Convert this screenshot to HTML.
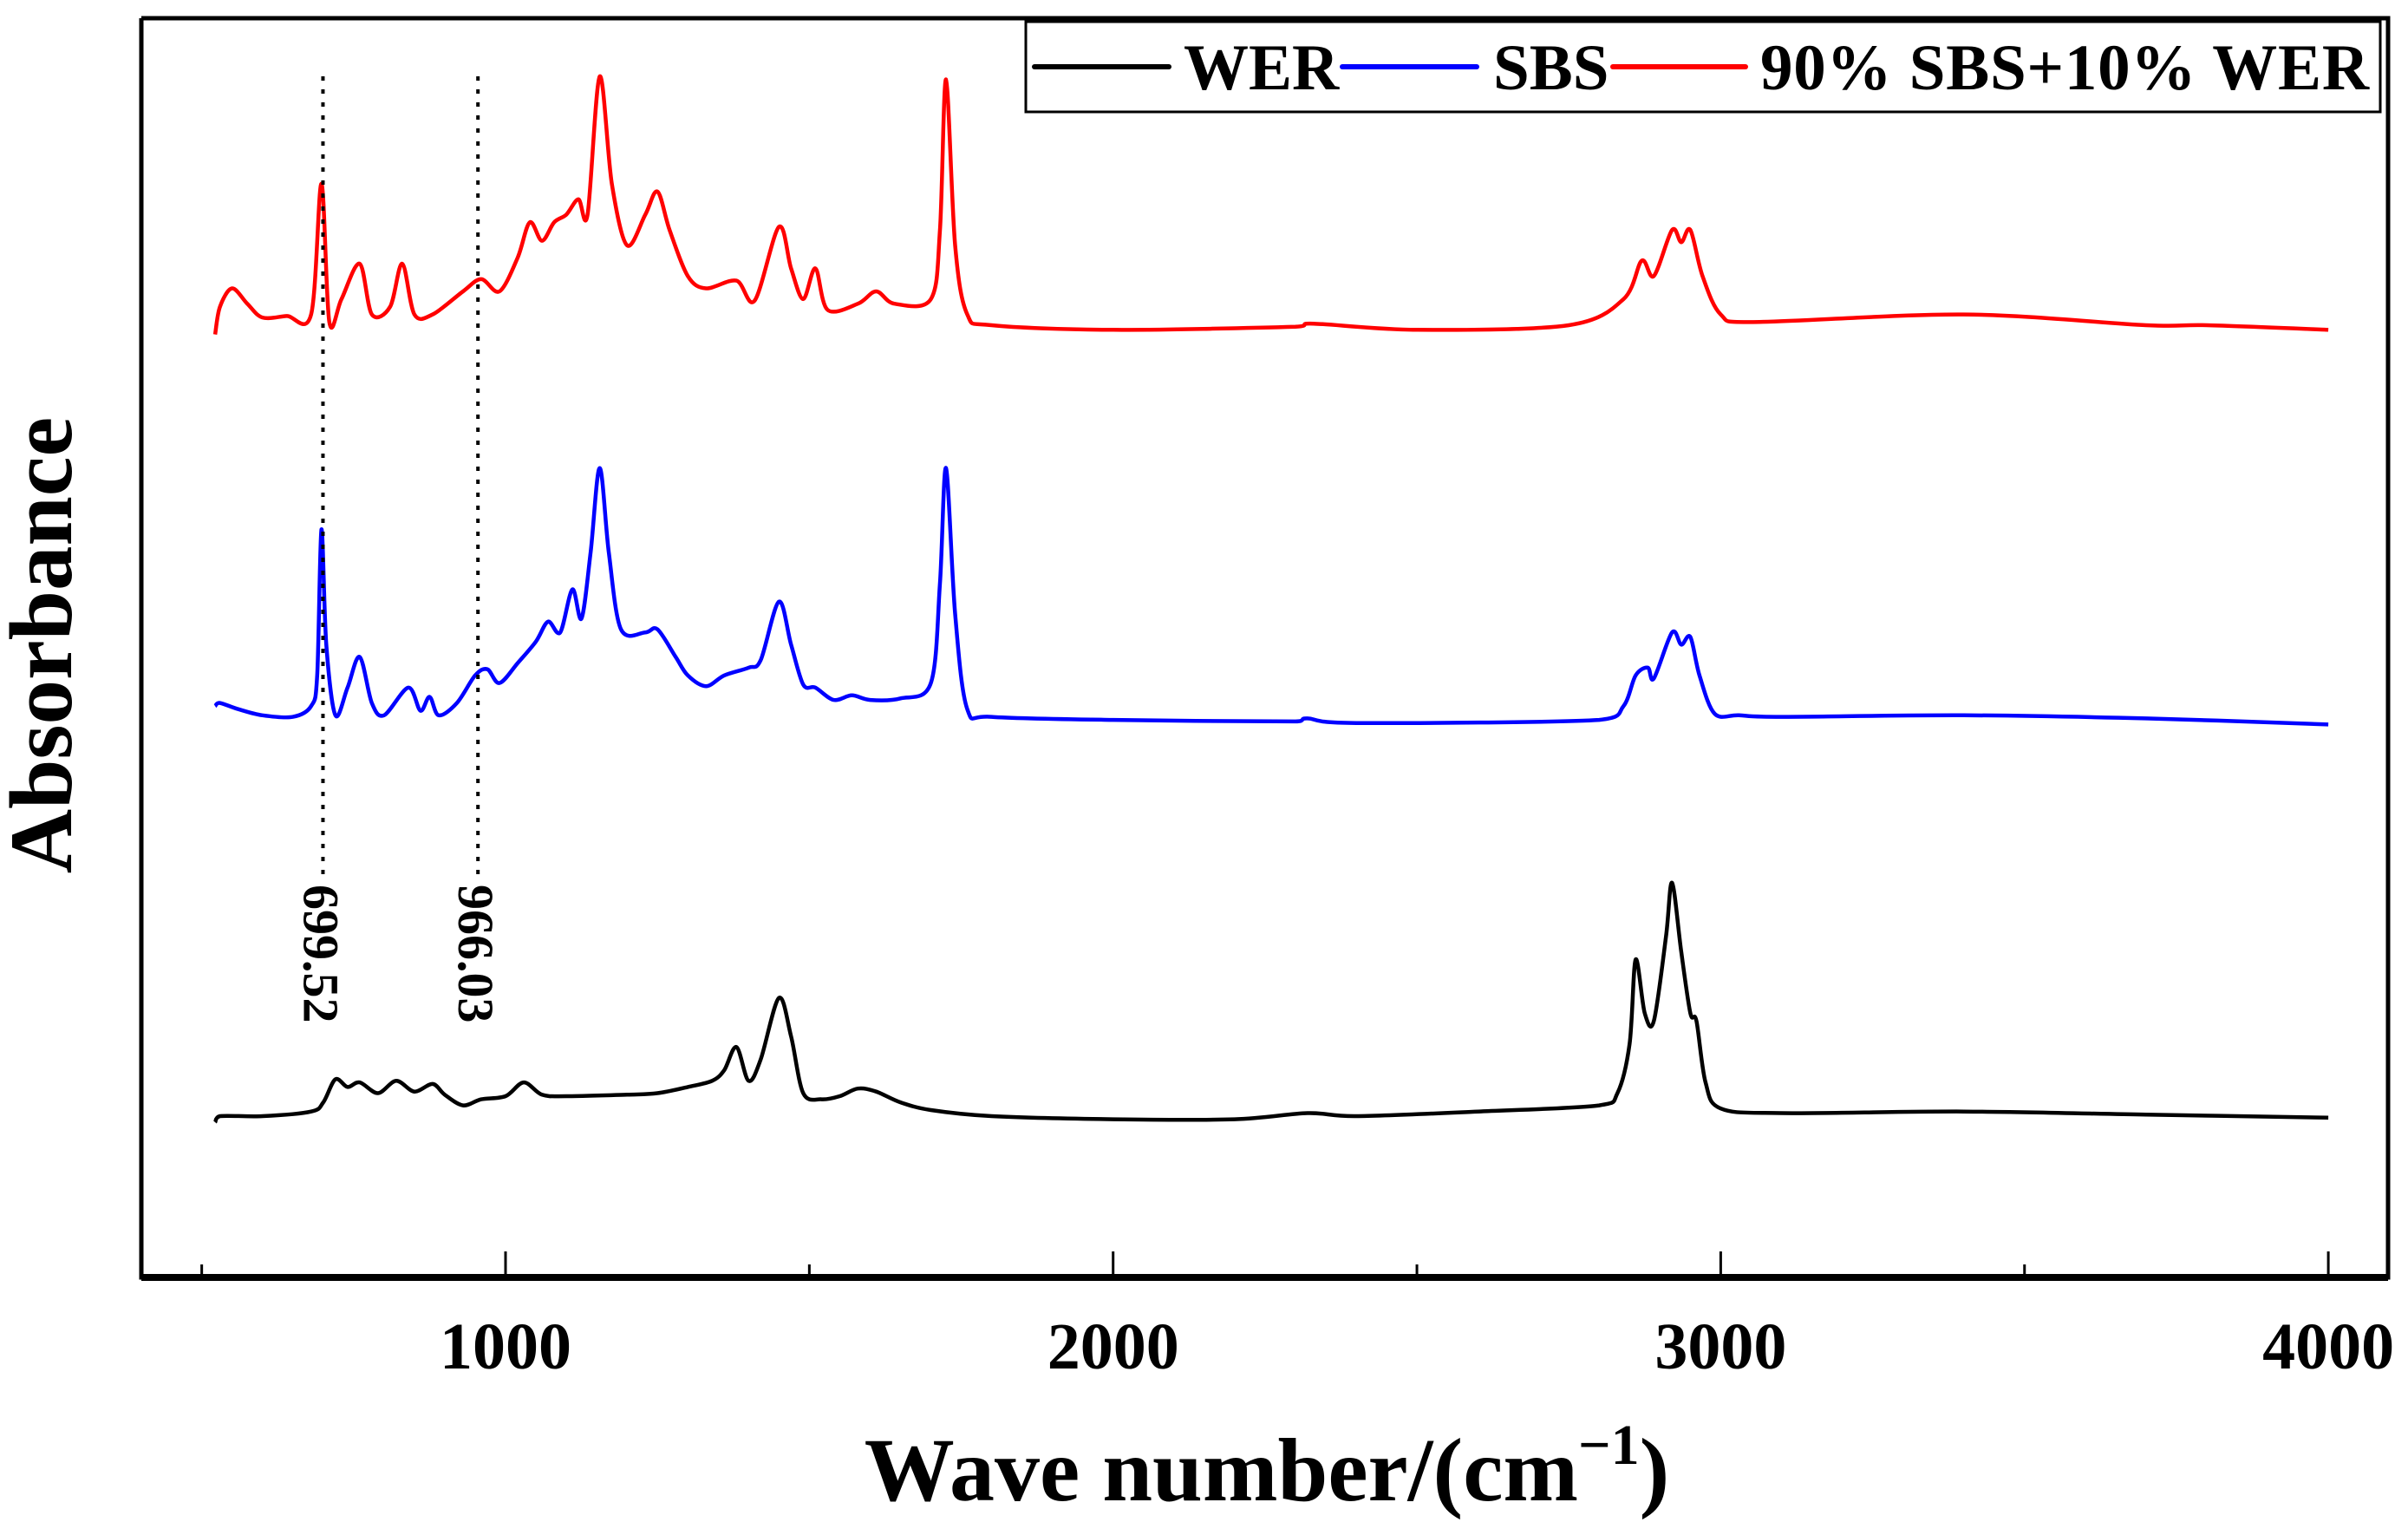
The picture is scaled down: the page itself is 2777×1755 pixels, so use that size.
<!DOCTYPE html>
<html><head><meta charset="utf-8"><style>
html,body{margin:0;padding:0;background:#fff;}
svg{display:block;font-family:"Liberation Serif",serif;font-weight:bold;}
</style></head><body>
<svg id="chart" width="2777" height="1755" viewBox="0 0 2777 1755" xmlns="http://www.w3.org/2000/svg">
<rect x="0" y="0" width="2777" height="1755" fill="#fff"/>
<g id="series"></g>
<g id="axes"></g>
<text x="0" y="0" transform="translate(82,744) rotate(-90)" text-anchor="middle" font-size="103">Absorbance</text>
<text x="1461" y="1730" text-anchor="middle" font-size="104">Wave number/(cm<tspan dy="-42" font-size="66">−1</tspan><tspan dy="42">)</tspan></text>
<g>
<rect x="1183" y="25" width="1562" height="104" fill="#fff" stroke="#000" stroke-width="3"/>
<line x1="1193" y1="77" x2="1348" y2="77" stroke="#000" stroke-width="6" stroke-linecap="round"/>
<text x="1365" y="103" font-size="75">WER</text>
<line x1="1548" y1="77" x2="1703" y2="77" stroke="#0000ff" stroke-width="6" stroke-linecap="round"/>
<text x="1722" y="103" font-size="75">SBS</text>
<line x1="1860" y1="77" x2="2013" y2="77" stroke="#ff0000" stroke-width="6" stroke-linecap="round"/>
<text x="2030" y="103" font-size="75" textLength="702">90% SBS+10% WER</text>
</g>
</svg>
<script>
const xTicks=[1000,2000,3000,4000];
const xMinor=[500,1500,2500,3500];
const markers=[699.52,966.03];
const markerLabels=["699.52","966.03"];
const werX=[522,530,600,680,700,720,740,760,790,820,850,880,900,930,960,1000,1030,1060,1100,1200,1250,1300,1340,1360,1380,1400,1420,1450,1470,1490,1520,1550,1580,1610,1650,1700,1800,2000,2200,2320,2400,2600,2800,2830,2850,2860,2875,2890,2910,2920,2935,2950,2960,2975,3000,3100,3400,3700,4000];
const werY=[101,105,105,108,114,129,124,127,120,128,121,126,119,112,116,118,127,119,118,119,120,124,128,135,150,128,142,182,157,120,116,118,123,121,114,109,105,103,103,107,105,108,112,120,152,207,172,167,222,257,212,172,167,127,110,107,108,106,104];
const sbsX=[522,530,560,600,650,680,690,697,705,720,740,760,780,800,840,860,875,890,920,950,970,990,1020,1050,1070,1090,1110,1125,1140,1155,1170,1190,1230,1250,1280,1300,1330,1360,1400,1420,1450,1470,1490,1510,1540,1570,1600,1650,1700,1715,1725,1740,1760,1800,2000,2300,2320,2400,2800,2840,2860,2880,2890,2920,2935,2950,2965,2990,3030,3100,3400,3700,4000];
const sbsY=[372,374,370,366,365,372,392,487,412,366,384,404,374,366,384,369,378,366,374,392,396,387,400,414,427,420,448,429,472,527,472,422,420,422,404,392,385,392,397,402,440,412,386,384,376,379,376,377,387,452,527,432,370,365,363,362,364,361,363,372,392,397,390,420,412,417,392,367,366,365,366,364,360];
const mixX=[522,530,550,575,600,640,680,697,710,730,760,780,810,830,850,880,930,960,990,1020,1040,1060,1080,1100,1120,1135,1155,1175,1200,1230,1250,1270,1300,1330,1380,1410,1450,1470,1490,1510,1530,1580,1610,1640,1700,1715,1725,1740,1760,1800,2000,2300,2330,2500,2750,2840,2870,2890,2920,2935,2950,2970,3000,3050,3400,3700,3800,4000];
const mixY=[614,632,644,634,625,626,627,712,622,637,660,627,632,660,627,627,642,650,642,664,687,675,687,692,702,692,782,712,672,692,707,682,652,644,649,636,684,657,637,657,630,634,642,634,637,682,780,672,627,620,617,619,621,617,620,637,662,652,682,674,682,652,627,622,627,620,620,617];

const NS="http://www.w3.org/2000/svg";
const L=163,R=2754,T=21,B=1473;
function xs(v){return 583+(v-1000)*0.7007;}
function ys(v){return B-v*1.771;}
const ser=document.getElementById('series'), ax=document.getElementById('axes');
function mk(tag,attrs,parent){const e=document.createElementNS(NS,tag);for(const k in attrs)e.setAttribute(k,attrs[k]);parent.appendChild(e);return e;}
function line(xa,ya,color,name){
  const P=xa.map((x,i)=>[xs(x),ys(ya[i])]);
  let d='M'+P[0][0].toFixed(1)+','+P[0][1].toFixed(1);
  for(let i=0;i<P.length-1;i++){
    const p0=P[Math.max(0,i-1)],p1=P[i],p2=P[i+1],p3=P[Math.min(P.length-1,i+2)];
    const t=0.16;
    let c1x=p1[0]+(p2[0]-p0[0])*t,c1y=p1[1]+(p2[1]-p0[1])*t;
    let c2x=p2[0]-(p3[0]-p1[0])*t,c2y=p2[1]-(p3[1]-p1[1])*t;
    c1x=Math.min(Math.max(c1x,p1[0]),p2[0]);c2x=Math.min(Math.max(c2x,p1[0]),p2[0]);
    d+='C'+c1x.toFixed(1)+','+c1y.toFixed(1)+' '+c2x.toFixed(1)+','+c2y.toFixed(1)+' '+p2[0].toFixed(1)+','+p2[1].toFixed(1);
  }
  const p=mk('path',{d:d,fill:'none',stroke:color,'stroke-width':4.5,'stroke-linejoin':'round'},ser);
  
  
}
line(werX,werY,'#000','wer-line');
line(sbsX,sbsY,'#0000ff','sbs-line');
line(mixX,mixY,'#ff0000','mix-line');
markers.forEach((m,i)=>{
  const x=xs(m)-(i?8:0);
  const l=mk('line',{x1:x,y1:88,x2:x,y2:1015,stroke:'#000','stroke-width':4,'stroke-dasharray':'5,10'},ser);
  
  
  const t=mk('text',{transform:'translate('+(x-22)+',1020) rotate(90)','font-size':58},ser);
  t.textContent=markerLabels[i];
  
  
});
const sp=mk('path',{d:'M'+L+','+T+'V'+B+'H'+R+'V'+T+'H'+L,fill:'none',stroke:'#000','stroke-width':5},ax);


const bx=mk('line',{x1:L,y1:B,x2:R,y2:B,stroke:'#000','stroke-width':8},ax);


xTicks.forEach(v=>{
  const t=mk('line',{x1:xs(v),y1:B,x2:xs(v),y2:B-30,stroke:'#000','stroke-width':3},ax);
  
  
  const lb=mk('text',{x:xs(v),y:1578,'text-anchor':'middle','font-size':76},ax);
  lb.textContent=v;
  
  
});
xMinor.forEach(v=>{
  const t=mk('line',{x1:xs(v),y1:B,x2:xs(v),y2:B-15,stroke:'#000','stroke-width':3},ax);
  
  
});
</script>
</body></html>
